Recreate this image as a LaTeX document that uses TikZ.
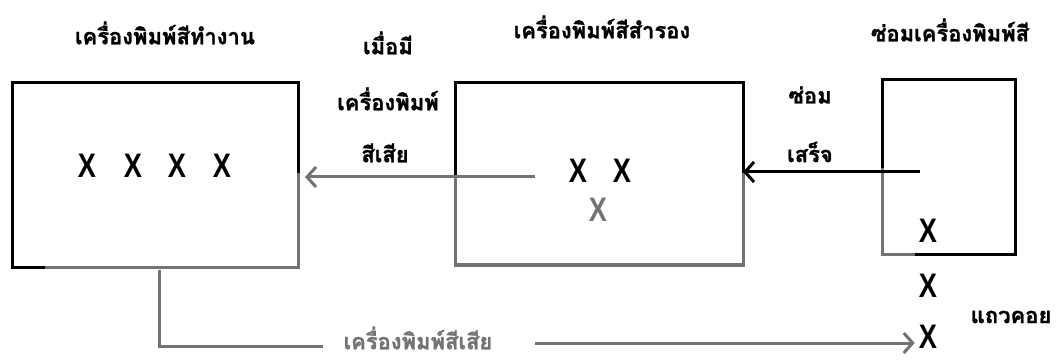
\documentclass[tikz,border=0pt]{standalone}
\usepackage{fontspec}
\usetikzlibrary{arrows.meta,calc}
\newfontfamily\thaifont[Script=Thai,FakeBold=1.2]{Loma}
\newfontfamily\xfont[FakeStretch=0.8]{Liberation Sans}
\definecolor{lgray}{RGB}{115,115,115}
\tikzset{
  box/.style={draw=black,line width=3pt,inner sep=0pt,outer sep=0pt},
  lbl/.style={font=\thaifont\bfseries\fontsize{22}{22}\selectfont,inner sep=0pt},
  xmark/.style={font=\xfont\bfseries\fontsize{34}{34}\selectfont,inner sep=0pt},
  grayx/.style={xmark,text=lgray},
  garrow/.style={draw=lgray,line width=3pt,-{Straight Barb[length=9pt,width=20pt,line width=3pt]}},
  barrow/.style={draw=black,line width=3pt,-{Straight Barb[length=9pt,width=20pt,line width=3pt]}},
  gline/.style={draw=lgray,line width=3pt},
}
\begin{document}
\begin{tikzpicture}[x=1pt,y=-1pt]
\useasboundingbox (0,0) rectangle (1062,363);
% boxes
\node[box,minimum width=286pt,minimum height=184pt] (b1) at (155,175) {};
\node[box,minimum width=288pt,minimum height=182pt] (b2) at (599,174) {};
\node[box,minimum width=133pt,minimum height=175pt] (b3) at (948.5,167.5) {};
% gray lower parts of box edges (scan look)
\draw[gline] (b1.east |- 0,173) -- (b1.south east) -- ([xshift=33]b1.south west);
\draw[gline] (b2.west |- 0,177) -- (b2.south west) -- (b2.south east) -- (b2.east |- 0,173);
\draw[gline] (b3.west |- 0,168) -- (b3.south west) -- (915,255);
% titles
\node[lbl] (t1) at (165,33) {เครื่องพิมพ์สีทำงาน};
\node[lbl] (t5) at (602,27) {เครื่องพิมพ์สีสำรอง};
\node[lbl] (t6) at (950,30) {ซ่อมเครื่องพิมพ์สี};
\node[lbl] (t2) at (388,43) {เมื่อมี};
\node[lbl] (t3) at (388,99) {เครื่องพิมพ์};
\node[lbl] (t4) at (385,153) {สีเสีย};
\node[lbl] (t7) at (810,95) {ซ่อม};
\node[lbl] (t8) at (810,152) {เสร็จ};
\node[lbl] (t9) at (1011,317) {แถวคอย};
\node[lbl,text=lgray] (t10) at (418,338) {เครื่องพิมพ์สีเสีย};
% X marks
\node[xmark] (x11) at (87,166) {X};
\node[xmark] (x12) at (133,166) {X};
\node[xmark] (x13) at (177,166) {X};
\node[xmark] (x14) at (222,166) {X};
\node[xmark] (x21) at (578,171) {X};
\node[xmark] (x22) at (622,171) {X};
\node[grayx] (x23) at (598,210) {X};
\node[xmark] (x31) at (928,231) {X};
\node[xmark] (x32) at (928,286) {X};
\node[xmark] (x33) at (928,337) {X};
% connectors
\coordinate (g1s) at (535,177);
\draw[garrow] (g1s) -- ([xshift=7pt]g1s -| b1.east);
\coordinate (k1) at (920,172);
\draw[barrow] (k1) -- (k1 -| b2.east);
\coordinate (c1) at (159,270);
\draw[gline] (c1) |- ([xshift=-20pt]t10.west |- 0,346);
\coordinate (c2) at (535,343);
\draw[garrow] (c2) -- ([xshift=-4pt]x33.west |- c2);
\end{tikzpicture}
\end{document}
